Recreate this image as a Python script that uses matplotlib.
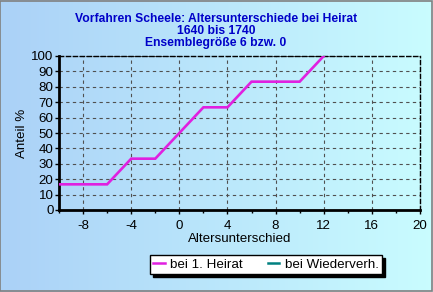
import numpy as np
import matplotlib
matplotlib.use("Agg")
import matplotlib.pyplot as plt
from matplotlib.lines import Line2D
from matplotlib.patches import Rectangle

plt.rcParams['font.family'] = ['Liberation Sans', 'DejaVu Sans']
plt.rcParams['axes.unicode_minus'] = False

title_lines = ["Vorfahren Scheele: Altersunterschiede bei Heirat", "1640 bis 1740", "Ensemblegröße 6 bzw. 0"]
x_first = [-10, -6, -4, -2, 2, 4, 6, 10, 12]
y_first = [16.67, 16.67, 33.33, 33.33, 66.67, 66.67, 83.33, 83.33, 100]
x_ticks = [-8, -4, 0, 4, 8, 12, 16, 20]
y_ticks = [0, 10, 20, 30, 40, 50, 60, 70, 80, 90, 100]
series_names = ["bei 1. Heirat", "bei Wiederverh."]
series_colors = ["#e020e0", "#008080"]

W, H = 433, 292
fig = plt.figure(figsize=(W / 100, H / 100), dpi=100)

bg = fig.add_axes([0, 0, 1, 1], zorder=-10)
c0 = np.array([0.67, 0.82, 0.97])
c1 = np.array([0.79, 0.99, 1.0])
t = np.linspace(0, 1, 256)[None, :, None]
grad = c0 + (c1 - c0) * t
bg.imshow(grad, aspect='auto', extent=[0, 1, 0, 1])
bg.set_xlim(0, 1); bg.set_ylim(0, 1)
bg.axis('off')
bg.add_patch(Rectangle((0.001, 0.002), 0.996, 0.995, fill=False, edgecolor='#808080', lw=1.2,
                       transform=bg.transAxes))

FS = 9.6
L, R, T, B = 59, 420, 56, 210
ax = fig.add_axes([L / W, 1 - B / H, (R - L) / W, (B - T) / H])
ax.set_facecolor('none')
ax.plot(x_first, y_first, color=series_colors[0], lw=1.9, solid_joinstyle='miter', zorder=3)
ax.set_xlim(-10, 20)
ax.set_ylim(0, 100)
ax.set_xticks(x_ticks)
ax.set_xticks(np.arange(-10, 21, 2), minor=True)
ax.set_yticks(y_ticks)
ax.grid(True, which='major', linestyle=(0, (3, 3)), color='#505050', lw=0.8)
for s in ['left', 'bottom']:
    ax.spines[s].set_linewidth(2)
    ax.spines[s].set_color('black')
for s in ['top', 'right']:
    ax.spines[s].set_linewidth(1)
    ax.spines[s].set_linestyle((0, (3, 2)))
    ax.spines[s].set_color('black')
ax.tick_params(axis='both', which='major', direction='out', length=3, width=1, labelsize=FS, pad=1, colors='black')
ax.tick_params(axis='x', which='minor', direction='out', length=2, width=1)
ax.tick_params(axis='x', which='major', pad=4)
ax.set_xlabel("Altersunterschied", fontsize=FS, labelpad=1)
ax.set_ylabel("Anteil %", fontsize=FS, labelpad=2)

for i, line in enumerate(title_lines):
    fig.text(216 / W, 1 - (19 + 12 * i) / H, line, ha='center', va='center',
             fontsize=8.7, fontweight='bold', color='#0000c8')

handles = [Line2D([], [], color=c, lw=1.8) for c in series_colors]
leg = fig.legend(handles, series_names, loc='center', bbox_to_anchor=(266 / W, 1 - 264.5 / H),
                 ncol=2, frameon=True, fontsize=FS, handlelength=0.85, handletextpad=0.4,
                 columnspacing=1.9, borderpad=0.25, fancybox=False, shadow={'color': 'black', 'alpha': 1})
leg.get_frame().set_edgecolor('black')
leg.get_frame().set_linewidth(1)
leg.get_frame().set_facecolor('white')

fig.savefig("out.png", dpi=100)
